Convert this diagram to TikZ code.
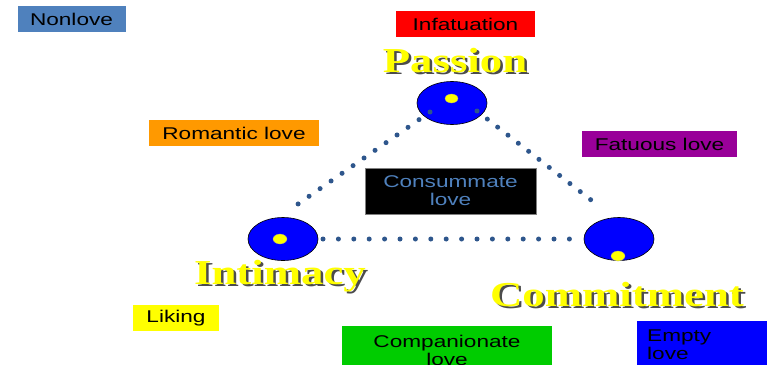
\documentclass[tikz,border=0pt]{standalone}
\usepackage{fontspec}
\usetikzlibrary{shapes.geometric}
\newfontfamily\boxfont{Liberation Sans}[FakeStretch=1.33]
\newfontfamily\headfont{Liberation Serif}[FakeStretch=1.28]
\definecolor{nonloveC}{RGB}{79,129,189}
\definecolor{redC}{RGB}{255,0,0}
\definecolor{orangeC}{RGB}{255,153,0}
\definecolor{purpleC}{RGB}{153,0,153}
\definecolor{yellowC}{RGB}{255,255,0}
\definecolor{greenC}{RGB}{0,204,0}
\definecolor{blueC}{RGB}{0,0,255}
\definecolor{dotC}{RGB}{46,86,140}
\begin{document}
\begin{tikzpicture}[x=1pt,y=-1pt,
  lbl/.style={rectangle, inner sep=0pt, font=\boxfont\fontsize{17}{18}\selectfont, text=black, align=center},
  heading/.style={font=\headfont\bfseries\fontsize{35}{35}\selectfont, text=yellowC, anchor=base, inner sep=0pt},
  shadowtxt/.style={heading, text=black!70},
  pole/.style={ellipse, draw=black, line width=0.6pt, fill=blueC, minimum width=70pt, minimum height=43pt, inner sep=0pt},
  core/.style={ellipse, fill=yellowC, draw=black!40, line width=0.3pt, inner sep=0pt},
  dotline/.style={line width=5pt, line cap=round, draw=dotC, dash pattern=on 0pt off #1}
]
\useasboundingbox (0,0) rectangle (767,364);
\clip (0,0) rectangle (767,364);
\fill[white] (0,0) rectangle (767,364);

% labelled boxes
\node[lbl, fill=nonloveC, minimum width=108pt, minimum height=26pt] (nonlove) at (71.5,19) {Nonlove};
\node[lbl, fill=redC, minimum width=139pt, minimum height=26pt] (infat) at (465.5,24) {Infatuation};
\node[lbl, fill=orangeC, minimum width=170pt, minimum height=26pt] (romantic) at (234,133) {Romantic love};
\node[lbl, fill=purpleC, minimum width=155pt, minimum height=26pt] (fatuous) at (659.5,144) {Fatuous love};
\node[lbl, fill=black, draw=gray, line width=0.6pt, text=nonloveC, minimum width=171pt, minimum height=46pt] (consum) at (450.5,191) {Consummate\\love};
\node[lbl, fill=yellowC, minimum width=86pt, minimum height=26pt] (liking) at (176,318) {Liking};
\node[lbl, fill=greenC, minimum width=210pt, minimum height=48pt, anchor=north] (compan) at (447,326) {Companionate\\love};
\node[lbl, fill=blueC, minimum height=48pt, anchor=north west, text width=120pt, inner xsep=10pt, align=left] (empty) at (637,321) {Empty\\love};

% poles
\node[pole] (P) at (452,103) {};
\node[pole] (I) at (283,239) {};
\node[pole] (C) at (619,239) {};
\node[core, minimum width=13pt, minimum height=9pt] (Pc) at (451.5,98.5) {};
\node[core, minimum width=14pt, minimum height=10pt] (Ic) at (280,239) {};
\node[core, minimum width=14pt, minimum height=10pt] (Cc) at (618,256) {};

% headings
\node[shadowtxt] at (457.5,74.5) {Passion};
\node[heading] (passionlbl) at (455,72) {Passion};
\node[shadowtxt] at (282.5,286.5) {Intimacy};
\node[heading] (intimacylbl) at (280,284) {Intimacy};
\node[shadowtxt] at (619.5,308.5) {Commitment};
\node[heading] (commitlbl) at (617,306) {Commitment};

% dotted sides
\coordinate (pl) at (430,112); \coordinate (il) at (298,204);
\coordinate (pr) at (477,111); \coordinate (cr) at (600,207);
\coordinate (ib) at (323,239); \coordinate (cb) at (570,239);
\draw[dotline=13.4pt] (pl) -- (il);
\draw[dotline=13.1pt] (pr) -- (cr);
\draw[dotline=15.4pt] (ib) -- (cb);
\end{tikzpicture}
\end{document}
